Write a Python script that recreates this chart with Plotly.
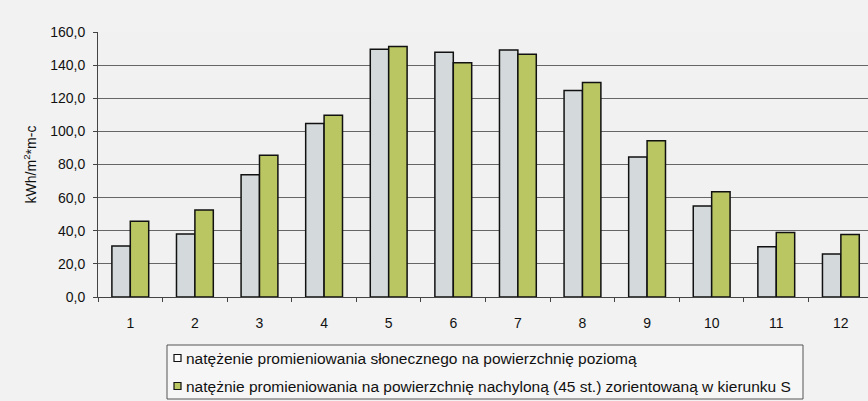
import plotly.graph_objects as go

# Monthly solar irradiation, kWh/m² per month
months = ["1", "2", "3", "4", "5", "6", "7", "8", "9", "10", "11", "12"]
horizontal = [30.8, 38.0, 73.8, 104.8, 149.6, 147.8, 149.2, 124.7, 84.6, 54.9, 30.3, 25.9]
tilted_45_south = [45.8, 52.5, 85.6, 109.8, 151.2, 141.5, 146.6, 129.5, 94.3, 63.5, 39.0, 37.8]

series_names = [
    "natężenie promieniowania słonecznego na powierzchnię poziomą",
    "natężnie promieniowania na powierzchnię nachyloną (45 st.) zorientowaną w kierunku S",
]
series_colors = ["#d4dadb", "#bac661"]
y_ticks = [0, 20, 40, 60, 80, 100, 120, 140, 160]
y_tick_text = [f"{v:.1f}".replace(".", ",") for v in y_ticks]

FONT = "Liberation Sans, Arial, sans-serif"
W, H = 868, 401
M_L, M_R, M_T, M_B = 98, 0, 32, 104
PLOT_W = W - M_L - M_R
PLOT_H = H - M_T - M_B


def px_x(px):
    """Pixel column -> paper x."""
    return (px - M_L) / PLOT_W


def px_y(py):
    """Pixel row -> paper y."""
    return (H - M_B - py) / PLOT_H


fig = go.Figure()
for name, vals, col in zip(series_names, [horizontal, tilted_45_south], series_colors):
    fig.add_trace(go.Bar(
        x=months, y=vals, name=name, showlegend=False,
        marker=dict(color=col, line=dict(color="#111111", width=1.5)),
    ))

# Legend box drawn below the plot: frame, small swatches and labels
shapes = [dict(
    type="rect", xref="paper", yref="paper",
    x0=px_x(167), x1=px_x(803), y0=px_y(399), y1=px_y(345),
    line=dict(color="#555555", width=1), fillcolor="#f6f6f6", layer="below",
)]
annotations = []
for i, (name, col) in enumerate(zip(series_names, series_colors)):
    cy = 358 + 28 * i
    shapes.append(dict(
        type="rect", xref="paper", yref="paper",
        x0=px_x(174), x1=px_x(181), y0=px_y(cy + 3.5), y1=px_y(cy - 3.5),
        line=dict(color="#111111", width=1.2),
        fillcolor="#ffffff" if i == 0 else col,
    ))
    annotations.append(dict(
        text=name, xref="paper", yref="paper",
        x=px_x(184), y=px_y(cy), xanchor="left", yanchor="middle",
        showarrow=False, font=dict(family=FONT, size=15.5, color="#111111"),
    ))

fig.update_layout(
    width=W, height=H,
    margin=dict(l=M_L, r=M_R, t=M_T, b=M_B),
    paper_bgcolor="#f2f2f2",
    plot_bgcolor="#f1f1f1",
    barmode="group",
    bargap=0.43,
    bargroupgap=0.0,
    font=dict(family=FONT, size=14, color="#111111"),
    showlegend=False,
    shapes=shapes,
    annotations=annotations,
    xaxis=dict(
        type="category",
        range=[-0.5, 11.42],
        showgrid=False,
        ticks="outside", tickson="boundaries", ticklen=4,
        tickcolor="#444444",
        showline=True, linecolor="#444444", linewidth=1,
        tickfont=dict(size=14),
        ticklabelstandoff=13,
    ),
    yaxis=dict(
        range=[0, 160],
        tickvals=y_ticks, ticktext=y_tick_text,
        showgrid=True, gridcolor="#666666", gridwidth=1,
        ticks="outside", ticklen=4, tickcolor="#444444",
        showline=True, linecolor="#444444", linewidth=1,
        zeroline=False,
        tickfont=dict(size=14),
        ticklabelstandoff=5,
        title=dict(text="kWh/m<sup>2</sup>*m-c", font=dict(size=14), standoff=10),
    ),
)

fig.write_html("out.html")
